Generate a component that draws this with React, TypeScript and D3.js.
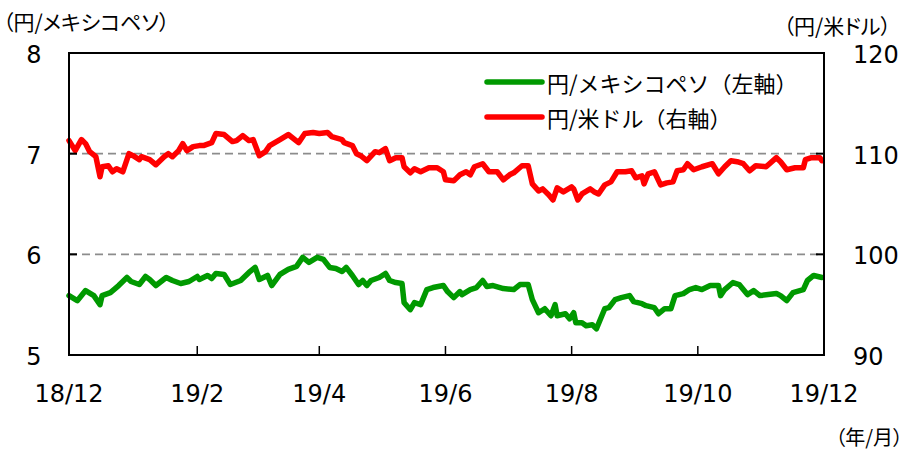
import React from 'react';
import * as d3 from 'd3';

const usdDates = [
  '2018-12-01','2018-12-04','2018-12-07','2018-12-09','2018-12-11','2018-12-14','2018-12-16','2018-12-17','2018-12-20','2018-12-22','2018-12-24','2018-12-27','2018-12-30',
  '2019-01-01','2019-01-04','2019-01-05','2019-01-09','2019-01-12','2019-01-16','2019-01-18','2019-01-20','2019-01-23','2019-01-25','2019-01-27','2019-01-30',
  '2019-02-02','2019-02-04','2019-02-08','2019-02-10','2019-02-14','2019-02-18','2019-02-20','2019-02-23','2019-02-26','2019-02-28',
  '2019-03-03','2019-03-06','2019-03-08','2019-03-13','2019-03-17','2019-03-22','2019-03-25','2019-03-29',
  '2019-04-01','2019-04-05','2019-04-07','2019-04-12','2019-04-13','2019-04-17','2019-04-19','2019-04-21','2019-04-24','2019-04-28','2019-04-30',
  '2019-05-03','2019-05-05','2019-05-08','2019-05-11','2019-05-12','2019-05-15','2019-05-17','2019-05-20','2019-05-24','2019-05-28','2019-05-31',
  '2019-06-01','2019-06-05','2019-06-08','2019-06-11','2019-06-13','2019-06-15','2019-06-19','2019-06-22','2019-06-26','2019-06-29',
  '2019-07-02','2019-07-04','2019-07-08','2019-07-11','2019-07-13','2019-07-16','2019-07-18','2019-07-21','2019-07-23','2019-07-25','2019-07-28',
  '2019-08-01','2019-08-02','2019-08-04','2019-08-06','2019-08-10','2019-08-12','2019-08-14','2019-08-17','2019-08-20','2019-08-23','2019-08-27','2019-08-30',
  '2019-09-01','2019-09-04','2019-09-05','2019-09-07','2019-09-10','2019-09-13','2019-09-16','2019-09-19','2019-09-21','2019-09-24','2019-09-26','2019-09-29',
  '2019-10-03','2019-10-08','2019-10-11','2019-10-14','2019-10-17','2019-10-20','2019-10-23','2019-10-26','2019-10-29',
  '2019-11-03','2019-11-08','2019-11-10','2019-11-13','2019-11-17','2019-11-21','2019-11-22','2019-11-25','2019-11-29','2019-11-30'
];
const usdValues = [
  111.3,110.3,111.4,111.0,110.2,109.7,107.7,108.7,108.8,108.2,108.5,108.2,110.0,
  109.8,109.4,109.7,109.4,108.9,109.7,110.0,109.7,110.3,111.0,110.3,110.7,
  110.8,110.8,111.1,112.0,111.9,111.2,111.3,111.8,111.3,111.4,
  109.8,110.2,110.8,111.4,111.9,111.1,112.0,112.1,
  112.0,112.1,111.7,111.4,111.1,110.8,110.0,109.8,109.3,110.2,110.1,
  110.5,109.3,109.6,109.6,108.7,108.1,108.5,108.2,108.6,108.6,108.2,
  107.4,107.3,107.9,108.2,107.9,108.7,109.0,108.2,108.2,107.4,
  107.9,108.1,108.8,108.8,107.0,106.3,106.5,105.9,105.4,106.6,106.2,
  106.7,106.5,105.4,106.0,106.5,106.2,106.0,106.9,107.2,108.2,108.2,108.3,
  107.6,107.8,107.0,108.0,108.2,106.9,107.1,107.2,108.3,108.4,109.0,108.4,
  108.7,109.0,108.0,108.7,109.3,109.2,109.0,108.3,108.8,
  108.7,109.6,109.2,108.4,108.6,108.6,109.4,109.6,109.6,109.3
];

const mxnDates = [
  '2018-12-01','2018-12-05','2018-12-09','2018-12-13','2018-12-16','2018-12-17','2018-12-21','2018-12-25','2018-12-29','2018-12-31',
  '2019-01-04','2019-01-07','2019-01-09','2019-01-12','2019-01-17','2019-01-20','2019-01-24','2019-01-28',
  '2019-02-01','2019-02-02','2019-02-06','2019-02-08','2019-02-10','2019-02-14','2019-02-17','2019-02-22','2019-02-26',
  '2019-03-01','2019-03-03','2019-03-07','2019-03-09','2019-03-13','2019-03-17','2019-03-21','2019-03-24','2019-03-27','2019-03-31',
  '2019-04-03','2019-04-06','2019-04-09','2019-04-12','2019-04-14','2019-04-17','2019-04-20','2019-04-22','2019-04-24','2019-04-26','2019-04-30',
  '2019-05-03','2019-05-05','2019-05-08','2019-05-11','2019-05-12','2019-05-15','2019-05-17','2019-05-20','2019-05-23','2019-05-26','2019-05-31',
  '2019-06-02','2019-06-05','2019-06-08','2019-06-09','2019-06-13','2019-06-16','2019-06-19','2019-06-21','2019-06-24','2019-06-29',
  '2019-07-04','2019-07-07','2019-07-11','2019-07-13','2019-07-16','2019-07-19','2019-07-22','2019-07-24','2019-07-25','2019-07-29','2019-07-31',
  '2019-08-02','2019-08-03','2019-08-06','2019-08-08','2019-08-11','2019-08-13','2019-08-17','2019-08-19','2019-08-22','2019-08-25','2019-08-29','2019-08-31',
  '2019-09-04','2019-09-06','2019-09-10','2019-09-12','2019-09-15','2019-09-18','2019-09-20','2019-09-24','2019-09-27','2019-09-30',
  '2019-10-03','2019-10-07','2019-10-11','2019-10-12','2019-10-14','2019-10-18','2019-10-21','2019-10-25','2019-10-28','2019-10-31',
  '2019-11-04','2019-11-08','2019-11-10','2019-11-13','2019-11-16','2019-11-21','2019-11-23','2019-11-26','2019-11-30'
];
const mxnValues = [
  5.59,5.54,5.64,5.59,5.50,5.59,5.62,5.69,5.77,5.73,
  5.70,5.78,5.75,5.69,5.77,5.74,5.71,5.73,
  5.78,5.75,5.79,5.76,5.81,5.80,5.70,5.74,5.82,
  5.87,5.75,5.79,5.69,5.80,5.85,5.88,5.97,5.92,5.97,
  5.95,5.87,5.86,5.83,5.87,5.79,5.70,5.74,5.69,5.74,5.77,
  5.81,5.74,5.72,5.71,5.52,5.45,5.52,5.50,5.65,5.67,5.69,
  5.63,5.57,5.63,5.60,5.65,5.67,5.74,5.68,5.69,5.66,
  5.65,5.70,5.70,5.55,5.42,5.46,5.39,5.50,5.39,5.41,5.36,
  5.42,5.32,5.32,5.29,5.30,5.26,5.46,5.47,5.55,5.57,5.59,5.53,
  5.51,5.49,5.47,5.41,5.46,5.46,5.59,5.61,5.65,5.67,
  5.65,5.69,5.69,5.59,5.65,5.72,5.70,5.60,5.64,5.59,
  5.60,5.61,5.59,5.54,5.62,5.65,5.74,5.79,5.77
];

const leftTicks = [5, 6, 7, 8];
const rightTicks = [90, 100, 110, 120];
const gridTicks = [6, 7];
const xTickDates = ['2018-12-01','2019-02-01','2019-04-01','2019-06-01','2019-08-01','2019-10-01','2019-12-01'];
const xTickLabels = ['18/12','19/2','19/4','19/6','19/8','19/10','19/12'];

const seriesNames = ['円/メキシコペソ（左軸）', '円/米ドル（右軸）'];
const seriesColors = ['#009900', '#ff0000'];

const W = 907, H = 452;
const M = { left: 69, right: 824, top: 53, bottom: 355 };
const JP = '"Noto Sans CJK JP", sans-serif';
const NUM = '"DejaVu Sans", Verdana, sans-serif';
const palt = { fontFeatureSettings: '"palt"' } as React.CSSProperties;

export default function App() {
  const parse = d3.timeParse('%Y-%m-%d');
  const x = d3.scaleTime()
    .domain([parse('2018-12-01')!, parse('2019-12-01')!])
    .range([M.left, M.right]);
  const yL = d3.scaleLinear().domain([5, 8]).range([M.bottom, M.top]);
  const yR = d3.scaleLinear().domain([90, 120]).range([M.bottom, M.top]);

  const usd = usdDates.map((d, i) => ({ d: parse(d)!, v: usdValues[i] }));
  const mxn = mxnDates.map((d, i) => ({ d: parse(d)!, v: mxnValues[i] }));

  const lineL = d3.line<{ d: Date; v: number }>().x(p => x(p.d)).y(p => yL(p.v));
  const lineR = d3.line<{ d: Date; v: number }>().x(p => x(p.d)).y(p => yR(p.v));

  return (
    <svg width={W} height={H} style={{ position: 'absolute', left: 0, top: 0, background: '#fff' }}>
      <rect x={0} y={0} width={W} height={H} fill="#fff" />
      {gridTicks.map(t => (
        <line key={t} x1={M.left} x2={M.right} y1={yL(t)} y2={yL(t)}
          stroke="#8c8c8c" strokeWidth={1.8} strokeDasharray="8,5" />
      ))}
      <path d={lineR(usd)!} fill="none" stroke={seriesColors[1]} strokeWidth={5.5} strokeLinejoin="round" strokeLinecap="round" />
      <path d={lineL(mxn)!} fill="none" stroke={seriesColors[0]} strokeWidth={5.5} strokeLinejoin="round" strokeLinecap="round" />
      <rect x={M.left} y={M.top} width={M.right - M.left} height={M.bottom - M.top}
        fill="none" stroke="#000" strokeWidth={2} />
      {leftTicks.slice(1, -1).map(t => (
        <line key={'lt' + t} x1={M.left} x2={M.left + 8} y1={yL(t)} y2={yL(t)} stroke="#000" strokeWidth={2} />
      ))}
      {rightTicks.slice(1, -1).map(t => (
        <line key={'rt' + t} x1={M.right} x2={M.right - 8} y1={yR(t)} y2={yR(t)} stroke="#000" strokeWidth={2} />
      ))}
      {xTickDates.slice(1, -1).map(d => (
        <line key={'xt' + d} x1={x(parse(d)!)} x2={x(parse(d)!)} y1={M.bottom} y2={M.bottom - 9} stroke="#000" strokeWidth={1.5} />
      ))}
      {leftTicks.map(t => (
        <text key={'ll' + t} x={34} y={yL(t) + 2} textAnchor="middle" dominantBaseline="central"
          fontFamily={NUM} fontSize={24} fill="#000">{t}</text>
      ))}
      {rightTicks.map(t => (
        <text key={'rl' + t} x={853} y={yR(t) + 2} textAnchor="start" dominantBaseline="central"
          fontFamily={NUM} fontSize={24} fill="#000">{t}</text>
      ))}
      {xTickDates.map((d, i) => (
        <text key={'xl' + d} x={x(parse(d)!)} y={394} textAnchor="middle" dominantBaseline="central"
          fontFamily={NUM} fontSize={24} fill="#000">{xTickLabels[i]}</text>
      ))}
      <text x={3} y={21} dominantBaseline="central" fontFamily={JP} fontSize={21} fill="#000" style={palt}>（円/メキシコペソ）</text>
      <text x={891} y={25} textAnchor="end" dominantBaseline="central" fontFamily={JP} fontSize={21} fill="#000" style={palt}>（円/米ドル）</text>
      <text x={903} y={436} textAnchor="end" dominantBaseline="central" fontFamily={JP} fontSize={20} fill="#000" style={palt}>（年/月）</text>
      {seriesNames.map((n, i) => (
        <g key={n}>
          <line x1={487} x2={542} y1={82 + i * 35} y2={82 + i * 35} stroke={seriesColors[i]} strokeWidth={5.5} strokeLinecap="round" />
          <text x={547} y={82 + i * 35} dominantBaseline="central" fontFamily={JP} fontSize={22} fill="#000">{n}</text>
        </g>
      ))}
    </svg>
  );
}
